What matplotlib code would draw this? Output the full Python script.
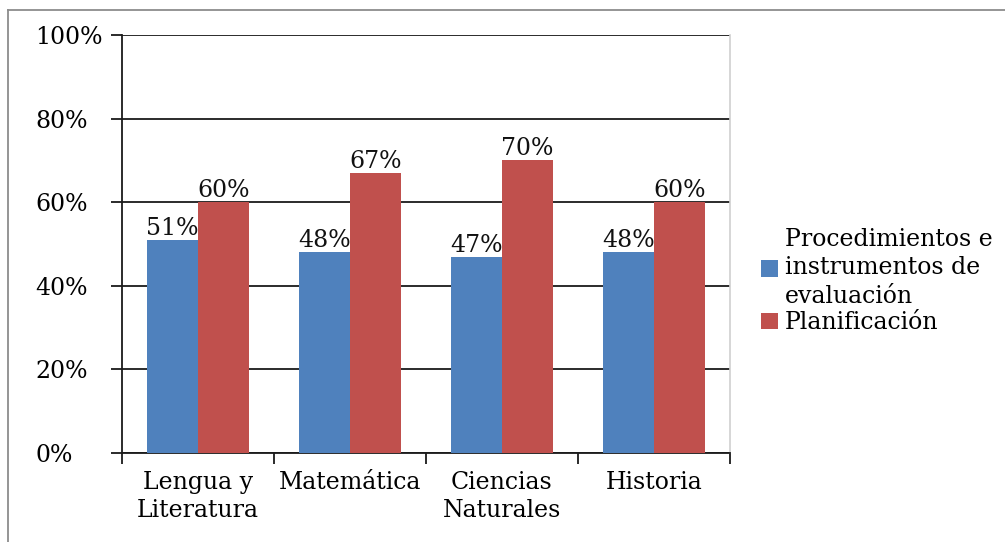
import matplotlib.pyplot as plt
import numpy as np
from matplotlib.lines import Line2D

materias = ['Lengua y\nLiteratura', 'Matemática', 'Ciencias\nNaturales', 'Historia']
procedimientos = [51, 48, 47, 48]
planificacion = [60, 67, 70, 60]
etiquetas = ['Procedimientos e\ninstrumentos de\nevaluación', 'Planificación']
y_ticks = [0, 20, 40, 60, 80, 100]

plt.rcParams['font.family'] = ['DejaVu Serif']
fs = 17

fig = plt.figure(figsize=(10.05, 5.42), dpi=100)
ax = fig.add_axes([122 / 1005, 89 / 542, 608 / 1005, 418 / 542])

x = np.arange(len(materias))
w = 0.335
b1 = ax.bar(x - w / 2, procedimientos, w, color='#4F81BD', label=etiquetas[0], zorder=3)
b2 = ax.bar(x + w / 2, planificacion, w, color='#C0504D', label=etiquetas[1], zorder=3)

ax.bar_label(b1, labels=[f'{v}%' for v in procedimientos], padding=0, fontsize=fs, color='#111')
ax.bar_label(b2, labels=[f'{v}%' for v in planificacion], padding=0, fontsize=fs, color='#111')

ax.set_xlim(-0.5, 3.5)
ax.set_ylim(0, 100)
ax.set_yticks(y_ticks)
ax.set_yticklabels([f'{t}%' for t in y_ticks])
ax.yaxis.grid(True, color='#1a1a1a', lw=1.3, zorder=0)
ax.set_axisbelow(True)

# category separators as x ticks, labels centred in between
ax.set_xticks(np.arange(-0.5, 4, 1))
ax.set_xticklabels([])
ax.set_xticks(x, minor=True)
ax.set_xticklabels(materias, minor=True, fontsize=fs, linespacing=1.3)
ax.tick_params(axis='x', which='minor', length=0, pad=13)
ax.tick_params(axis='x', which='major', length=8, width=1.3, color='#1a1a1a', direction='out')
ax.tick_params(axis='y', length=8, width=1.3, color='#1a1a1a', labelsize=fs, pad=54.5)
for lab in ax.get_yticklabels():
    lab.set_horizontalalignment('left')

ax.spines['top'].set_visible(False)
ax.spines['right'].set_color('#d0d0d0')
ax.spines['right'].set_linewidth(1.2)
for s in ['left', 'bottom']:
    ax.spines[s].set_color('#1a1a1a')
    ax.spines[s].set_linewidth(1.3)

leg = fig.legend(handles=[b1, b2], loc='center left', bbox_to_anchor=(740 / 1005, 1 - 281 / 542),
                 frameon=False, fontsize=fs, handlelength=0.7, handleheight=0.7,
                 handletextpad=0.3, labelspacing=0.15)
for t in leg.get_texts():
    t.set_linespacing(1.3)

# outer chart border
fig.add_artist(Line2D([8 / 1005, 1], [1 - 10 / 542, 1 - 10 / 542], color='#8c8c8c', lw=1.3))
fig.add_artist(Line2D([8 / 1005, 8 / 1005], [0, 1 - 10 / 542], color='#8c8c8c', lw=1.3))

fig.savefig('out.png', dpi=100, facecolor='white')
